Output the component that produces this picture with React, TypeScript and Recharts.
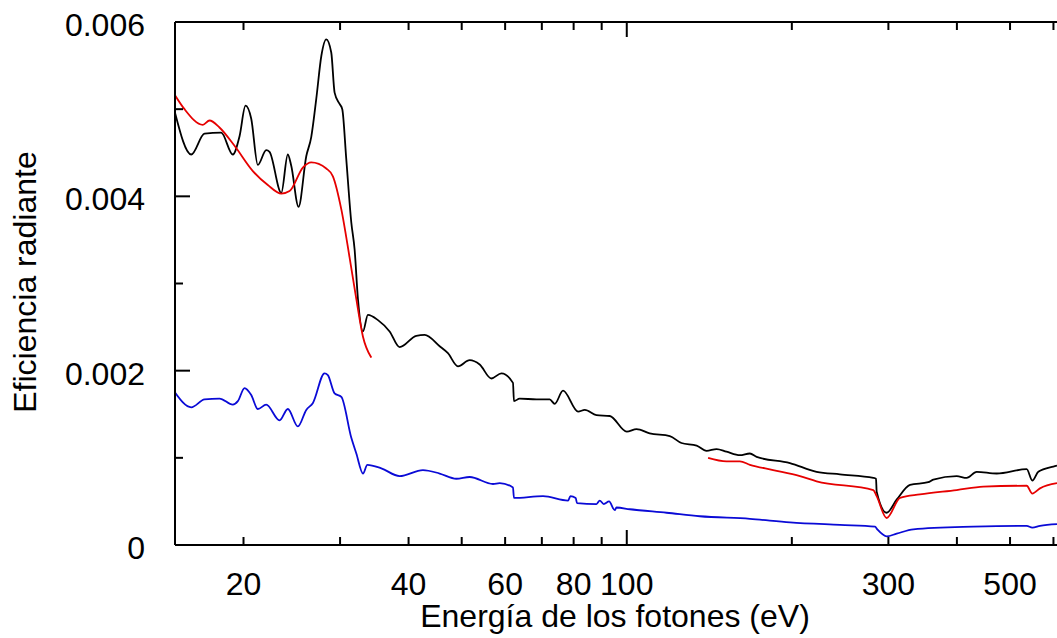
import { Label, Line, LineChart, ReferenceLine, XAxis, YAxis } from 'recharts'

const FONT = '"Liberation Sans", Arial, Helvetica, sans-serif'
const PLOT_TOP = 22
const PLOT_BOTTOM = 545
const PLOT_LEFT = 175

// photon energy ticks (eV), log axis
const xTicks = [20, 30, 40, 50, 60, 70, 80, 90, 100, 200, 300, 400, 500, 600]
const xLabels = [20, 40, 60, 80, 100, 300, 500]
const yTicks = [0, 0.001, 0.002, 0.003, 0.004, 0.005, 0.006]
const yLabels = [0, 0.002, 0.004, 0.006]

const blackEnergy = [
  15.0, 16.06, 16.98, 18.21, 19.12, 19.67, 20.17, 20.66, 21.24, 22.0, 22.31, 23.44, 24.09, 24.44, 25.2,
  26.03, 26.58, 27.15, 27.73, 28.31, 28.91, 29.32, 29.94, 30.28, 30.79, 31.45, 31.89, 32.34, 33.03, 33.72,
  35.18, 36.94, 38.53, 41.32, 42.8, 45.58, 47.19, 49.22, 51.7, 53.92, 56.63, 59.07, 62.01, 62.27, 63.78,
  68.43, 72.36, 73.89, 76.52, 81.51, 83.83, 88.05, 93.11, 100, 104.2, 110.1, 119.8, 125.8, 134.1, 139.8,
  145.8, 152, 160.8, 167.7, 172.5, 198.4, 221.9, 244.8, 281.6, 284.8, 285.6, 297.8, 310.6, 328.5, 354.6,
  362.2, 399.6, 416.8, 434.6, 472.8, 536.2, 549, 563, 599.8, 609,
]
const blackValue = [
  0.00496, 0.00448, 0.00472, 0.00473, 0.00448, 0.00469, 0.00504, 0.00489, 0.00436, 0.00453, 0.00451, 0.00404, 0.00448, 0.00435, 0.00388,
  0.00446, 0.00468, 0.00512, 0.00561, 0.0058, 0.00565, 0.00519, 0.00506, 0.005, 0.00443, 0.0037, 0.00339, 0.00282, 0.00245, 0.00264,
  0.00258, 0.00245, 0.00227, 0.0024, 0.00241, 0.00228, 0.0022, 0.00205, 0.00212, 0.00207, 0.00191, 0.00197, 0.00186, 0.00165, 0.00168,
  0.00167, 0.00167, 0.00162, 0.00177, 0.00153, 0.00155, 0.00149, 0.00148, 0.0013, 0.00133, 0.00128, 0.00125, 0.00117, 0.00114, 0.00108,
  0.0011, 0.00107, 0.00103, 0.00105, 0.00101, 0.00094, 0.00084, 0.00081, 0.00077, 0.00076, 0.00061, 0.00037, 0.00052, 0.00069, 0.00072,
  0.00075, 0.00079, 0.00077, 0.00084, 0.00082, 0.00087, 0.00074, 0.00084, 0.0009, 0.00091,
]

const redLowEnergy = [
  15.0, 15.61, 16.86, 17.34, 18.08, 19.26, 20.8, 22.15, 23.44, 24.27, 25.66, 26.58, 28.31, 29.11, 30.16,
  31.22, 32.12, 33.03, 34.2,
]
const redLowValue = [
  0.00516, 0.005, 0.00482, 0.00487, 0.00479, 0.00458, 0.00429, 0.00413, 0.00403, 0.00406, 0.00433, 0.00439, 0.00432, 0.00423, 0.00385,
  0.0033, 0.00282, 0.00239, 0.00215,
]

const redHighEnergy = [
  140.7, 152, 160.8, 167.7, 184.9, 206.9, 221.9, 281.6, 285.6, 297.8, 315, 342.5, 399.6, 446.9, 536.2,
  549, 567, 609,
]
const redHighValue = [
  0.001, 0.00096, 0.00096, 0.00092, 0.00086, 0.00079, 0.00073, 0.00063, 0.00056, 0.00031, 0.00054, 0.00058, 0.00063, 0.00067, 0.00068,
  0.00059, 0.00065, 0.00071,
]

const blueEnergy = [
  15.0, 16.06, 16.98, 18.08, 19.12, 19.53, 20.09, 20.66, 21.24, 22.0, 23.27, 24.09, 25.13, 26.03, 26.77,
  28.11, 28.5, 29.32, 30.16, 31.45, 32.12, 33.03, 33.64, 35.67, 38.53, 42.49, 45.58, 48.88, 51.7, 57.02,
  58.65, 62.01, 62.27, 70.36, 78.15, 78.94, 80.7, 81.15, 88.05, 89.27, 90.78, 92.83, 95.08, 95.76, 101.3,
  118.2, 135.9, 167.7, 198.4, 244.8, 283.6, 286.3, 297.8, 310.6, 333.1, 428.5, 536.2, 549, 567, 609,
]
const blueValue = [
  0.00175, 0.00158, 0.00167, 0.00168, 0.00161, 0.00165, 0.0018, 0.00172, 0.00156, 0.00161, 0.00143, 0.00156, 0.00136, 0.00155, 0.00163,
  0.00197, 0.00195, 0.00174, 0.0017, 0.00123, 0.00105, 0.00082, 0.00092, 0.00088, 0.00079, 0.00086, 0.00082, 0.00076, 0.00078, 0.0007,
  0.00071, 0.00066, 0.00054, 0.00056, 0.00051, 0.00056, 0.00054, 0.00048, 0.00047, 0.00051, 0.00047, 0.0005, 0.0004, 0.00043, 0.00041,
  0.00037, 0.00033, 0.0003, 0.00026, 0.00023, 0.00021, 0.00018, 0.0001, 0.00013, 0.00018, 0.00021, 0.00022, 0.0002, 0.00022, 0.00024,
]

const toPoints = (energy: number[], value: number[]) =>
  energy.map((e, i) => ({ e, v: value[i] }))

const series = [
  { name: 'negro', color: '#000000', data: toPoints(blackEnergy, blackValue) },
  { name: 'rojo-bajo', color: '#e60000', data: toPoints(redLowEnergy, redLowValue) },
  { name: 'rojo-alto', color: '#e60000', data: toPoints(redHighEnergy, redHighValue) },
  { name: 'azul', color: '#0a0ad6', data: toPoints(blueEnergy, blueValue) },
]

const XTick = ({ x, payload }: any) => {
  const v = payload.value
  const len = v === 100 ? 15 : 8
  return (
    <g>
      <line x1={x} x2={x} y1={PLOT_BOTTOM} y2={PLOT_BOTTOM - len} stroke="#000" strokeWidth={2} />
      <line x1={x} x2={x} y1={PLOT_TOP} y2={PLOT_TOP + len} stroke="#000" strokeWidth={2} />
      {xLabels.includes(v) && (
        <text x={x} y={595} textAnchor="middle" fontSize={32} fontFamily={FONT} fill="#000">
          {v}
        </text>
      )}
    </g>
  )
}

const YTick = ({ y, payload }: any) => {
  const v = payload.value
  const major = yLabels.includes(v)
  return (
    <g>
      <line x1={PLOT_LEFT} x2={PLOT_LEFT + (major ? 15 : 8)} y1={y} y2={y} stroke="#000" strokeWidth={2} />
      {major && (
        <text x={145} y={y + 14} textAnchor="end" fontSize={32} fontFamily={FONT} fill="#000">
          {String(v)}
        </text>
      )}
    </g>
  )
}

export default function App() {
  return (
    <div style={{ position: 'absolute', left: 0, top: 0, width: 1057, height: 638, overflow: 'hidden', background: '#fff' }}>
      <LineChart
        width={1057}
        height={638}
        margin={{ top: PLOT_TOP, right: 0, bottom: 638 - PLOT_BOTTOM - 1, left: PLOT_LEFT - 1 }}
      >
        <XAxis
          dataKey="e"
          type="number"
          scale="log"
          domain={[15, 609]}
          allowDataOverflow
          ticks={xTicks}
          interval={0}
          height={1}
          tickLine={false}
          tick={<XTick />}
          axisLine={{ stroke: '#000', strokeWidth: 2 }}
        >
          <Label
            content={() => (
              <text x={615} y={627} textAnchor="middle" fontSize={32} fontFamily={FONT} fill="#000">
                Energía de los fotones (eV)
              </text>
            )}
          />
        </XAxis>
        <YAxis
          dataKey="v"
          type="number"
          domain={[0, 0.006]}
          ticks={yTicks}
          interval={0}
          width={1}
          tickLine={false}
          tick={<YTick />}
          axisLine={{ stroke: '#000', strokeWidth: 2 }}
        >
          <Label
            content={() => (
              <text
                x={36}
                y={282}
                transform="rotate(-90, 36, 282)"
                textAnchor="middle"
                fontSize={32}
                fontFamily={FONT}
                fill="#000"
              >
                Eficiencia radiante
              </text>
            )}
          />
        </YAxis>
        <ReferenceLine y={0.006} stroke="#000" strokeWidth={2} />
        {series.map((s) => (
          <Line
            key={s.name}
            data={s.data}
            dataKey="v"
            type="monotone"
            stroke={s.color}
            strokeWidth={1.8}
            dot={false}
            isAnimationActive={false}
          />
        ))}
      </LineChart>
    </div>
  )
}
